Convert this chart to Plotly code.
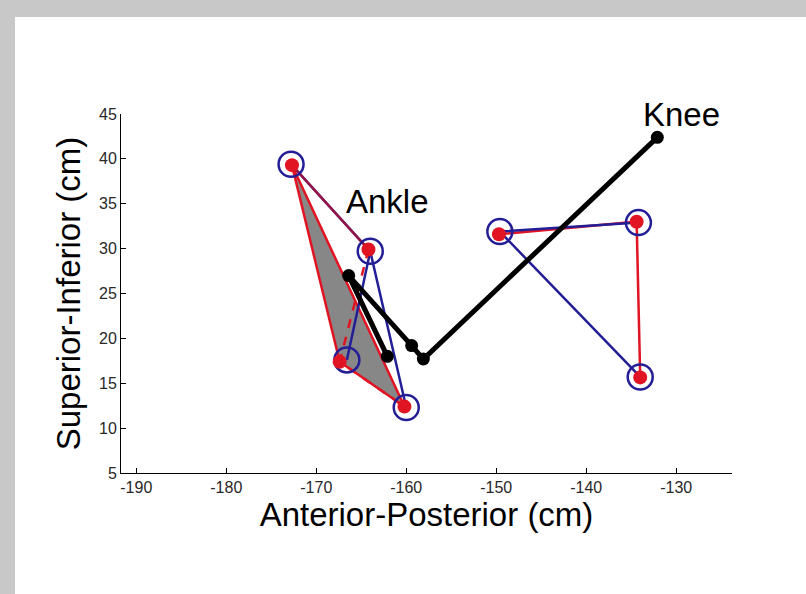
import plotly.graph_objects as go

# Ankle markers (4 points): red = measured, blue = model
ankle_red_x = [-172.7, -164.2, -167.4, -160.2]
ankle_red_y = [39.3, 29.9, 17.4, 12.4]
ankle_blue_x = [-172.8, -164.0, -166.6, -160.0]
ankle_blue_y = [39.4, 29.7, 17.6, 12.3]

# Knee markers (3 points)
knee_red_x = [-149.7, -134.4, -134.0]
knee_red_y = [31.6, 33.0, 15.65]
knee_blue_x = [-149.6, -134.2, -134.0]
knee_blue_y = [31.9, 32.9, 15.7]

# Limb chain (foot -> ankle -> knee)
chain_x = [-162.1, -166.4, -159.4, -158.1, -132.1]
chain_y = [18.0, 27.0, 19.2, 17.7, 42.4]

x_ticks = [-190, -180, -170, -160, -150, -140, -130]
y_ticks = [5, 10, 15, 20, 25, 30, 35, 40, 45]

RED = "rgb(225,20,35)"
BLUE = "rgb(35,30,150)"
FONT = "Liberation Sans, Arial, sans-serif"


def pick(xs, ys, order):
    return [xs[i] for i in order], [ys[i] for i in order]


fig = go.Figure()

# shaded ankle triangle
fx, fy = pick(ankle_red_x, ankle_red_y, [0, 2, 3, 0])
fig.add_trace(go.Scatter(x=fx, y=fy, mode="lines", fill="toself",
                         fillcolor="rgb(135,135,135)",
                         line=dict(color=RED, width=2.5)))

# blue segments
bx, by = pick(ankle_blue_x, ankle_blue_y, [0, 1, 3])
fig.add_trace(go.Scatter(x=bx, y=by, mode="lines", line=dict(color=BLUE, width=2.5)))
bx, by = pick(ankle_blue_x, ankle_blue_y, [1, 2])
fig.add_trace(go.Scatter(x=bx, y=by, mode="lines", line=dict(color=BLUE, width=2.5)))

# red segments
rx, ry = pick(ankle_red_x, ankle_red_y, [0, 1])
fig.add_trace(go.Scatter(x=rx, y=ry, mode="lines", line=dict(color="rgb(150,20,70)", width=2.5)))
rx, ry = pick(ankle_red_x, ankle_red_y, [1, 2, 3])
fig.add_trace(go.Scatter(x=rx, y=ry, mode="lines", line=dict(color=RED, width=2.5, dash="dash")))
rx, ry = pick(knee_red_x, knee_red_y, [0, 1, 2])
fig.add_trace(go.Scatter(x=rx, y=ry, mode="lines", line=dict(color=RED, width=2.5)))

# blue knee segments on top
bx, by = pick(knee_blue_x, knee_blue_y, [1, 0, 2])
fig.add_trace(go.Scatter(x=bx, y=by, mode="lines", line=dict(color=BLUE, width=2.5)))

# black limb chain
fig.add_trace(go.Scatter(x=chain_x, y=chain_y, mode="lines+markers",
                         line=dict(color="black", width=5),
                         marker=dict(color="black", size=13)))

# blue rings
fig.add_trace(go.Scatter(x=ankle_blue_x + knee_blue_x, y=ankle_blue_y + knee_blue_y,
                         mode="markers",
                         marker=dict(symbol="circle-open", size=25, color=BLUE,
                                     line=dict(width=2.5, color=BLUE))))
# red dots
fig.add_trace(go.Scatter(x=ankle_red_x + knee_red_x, y=ankle_red_y + knee_red_y,
                         mode="markers",
                         marker=dict(size=14, color=RED)))

fig.add_annotation(x=-162.1, y=35.2, text="Ankle", showarrow=False,
                   xanchor="center", yanchor="middle",
                   font=dict(family=FONT, size=33, color="black"))
fig.add_annotation(x=-129.4, y=45.0, text="Knee", showarrow=False,
                   xanchor="center", yanchor="middle",
                   font=dict(family=FONT, size=33, color="black"))

# white page on a light gray frame
fig.add_shape(type="rect", xref="paper", yref="paper", layer="below",
              x0=(15 - 121) / 611, x1=(806 - 121) / 611,
              y0=(473 - 594) / 359, y1=(473 - 17) / 359,
              fillcolor="white", line=dict(width=0))

fig.update_layout(
    width=806, height=594,
    margin=dict(l=121, r=74, t=114, b=121),
    paper_bgcolor="rgb(200,200,200)",
    plot_bgcolor="rgba(0,0,0,0)",
    showlegend=False,
    font=dict(family=FONT, color="rgb(40,40,40)"),
    xaxis=dict(range=[-191.7, -123.8], tickvals=x_ticks,
               ticktext=[str(v) for v in x_ticks],
               showgrid=False, zeroline=False, showline=True,
               linecolor="black", linewidth=1,
               ticks="inside", ticklen=5, tickcolor="black",
               tickfont=dict(size=16, family=FONT, color="rgb(40,40,40)"),
               title=dict(text="Anterior-Posterior (cm)",
                          font=dict(size=33, family=FONT, color="black"),
                          standoff=6)),
    yaxis=dict(range=[5, 45], tickvals=y_ticks,
               ticktext=[str(v) for v in y_ticks],
               showgrid=False, zeroline=False, showline=True,
               linecolor="black", linewidth=1,
               ticks="inside", ticklen=5, tickcolor="black",
               tickfont=dict(size=16, family=FONT, color="rgb(40,40,40)"),
               title=dict(text="Superior-Inferior (cm)",
                          font=dict(size=33, family=FONT, color="black"),
                          standoff=8)),
)

fig.write_html("out.html")
